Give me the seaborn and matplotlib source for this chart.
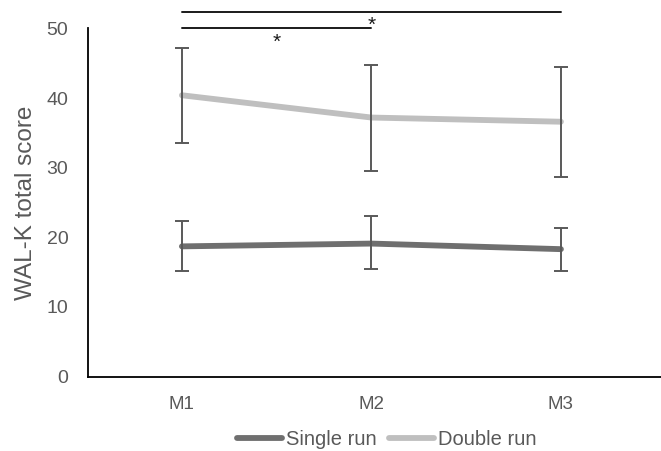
import matplotlib
matplotlib.use("Agg")
import matplotlib.pyplot as plt
import seaborn as sns
import pandas as pd

timepoints = ["M1", "M2", "M3"]
single_mean = [18.7, 19.1, 18.3]
single_upper = [22.3, 23.1, 21.3]
single_lower = [15.2, 15.4, 15.2]
double_mean = [40.4, 37.2, 36.6]
double_upper = [47.2, 44.8, 44.4]
double_lower = [33.5, 29.5, 28.7]
series_names = ["Single run", "Double run"]
series_colors = ["#6f6f6f", "#bfbfbf"]

sns.set_theme(style="white")
plt.rcParams["font.family"] = ["Liberation Sans", "DejaVu Sans"]

df = pd.DataFrame({
    "time": timepoints * 2,
    "score": single_mean + double_mean,
    "group": [series_names[0]] * 3 + [series_names[1]] * 3,
})

fig = plt.figure(figsize=(6.61, 4.51), dpi=100)
ax = fig.add_axes([0.133, 0.165, 0.867, 0.772])

sns.lineplot(data=df, x="time", y="score", hue="group", hue_order=series_names,
             palette=series_colors, linewidth=4.2, ax=ax, legend=True,
             solid_capstyle="round", zorder=2)

for mean, up, lo in [(single_mean, single_upper, single_lower),
                     (double_mean, double_upper, double_lower)]:
    yerr = [[m - l for m, l in zip(mean, lo)], [u - m for m, u in zip(mean, up)]]
    ax.errorbar(timepoints, mean, yerr=yerr, fmt="none", ecolor="#595959",
                elinewidth=1.4, capsize=5, capthick=1.4, zorder=3)

# significance brackets
ax.plot([0, 2], [52.3, 52.3], color="#1a1a1a", lw=1.4, clip_on=False)
ax.plot([0, 1], [50.05, 50.05], color="#1a1a1a", lw=1.4, clip_on=False)
ax.text(1.0, 49.7, "*", ha="center", va="baseline", fontsize=15, color="#1a1a1a")
ax.text(0.5, 47.2, "*", ha="center", va="baseline", fontsize=15, color="#1a1a1a")

ax.set_xlim(-0.496, 2.528)
ax.set_ylim(0, 50)
ax.set_yticks([0, 10, 20, 30, 40, 50])
ax.set_xlabel("")
ax.set_ylabel("WAL-K total score", fontsize=17.5, color="#595959", labelpad=7)
ax.tick_params(axis="x", length=0, pad=14, labelsize=13.5, labelcolor="#595959")
ax.tick_params(axis="y", length=0, pad=14, labelsize=14, labelcolor="#595959")
for s in ["top", "right"]:
    ax.spines[s].set_visible(False)
for s in ["left", "bottom"]:
    ax.spines[s].set_color("black")
    ax.spines[s].set_linewidth(1.3)

leg = ax.legend(loc="center", bbox_to_anchor=(0.585, 0.025), bbox_transform=fig.transFigure,
                ncol=2, frameon=False, fontsize=14.5, handlelength=2.25, handletextpad=0.2,
                columnspacing=0.6)
for t in leg.get_texts():
    t.set_color("#595959")
for h in leg.get_lines():
    h.set_linewidth(4.2)

fig.savefig("out.png", dpi=100)
